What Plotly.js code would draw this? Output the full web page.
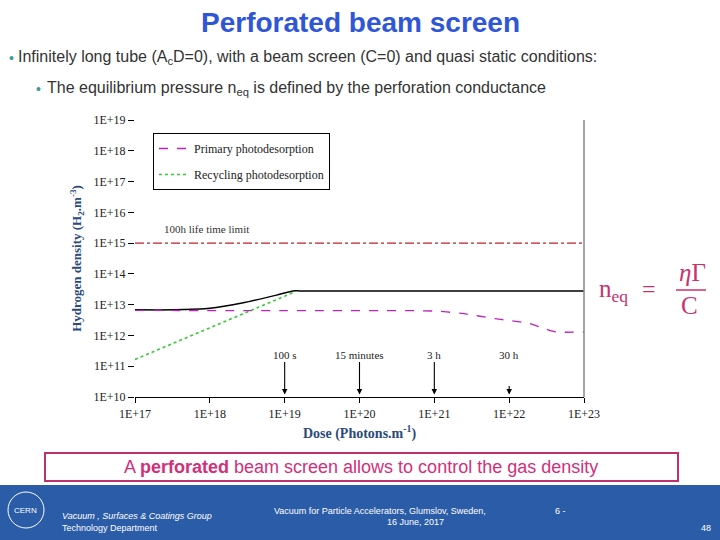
<!DOCTYPE html>
<html>
<head>
<meta charset="utf-8">
<script src="https://cdn.plot.ly/plotly-3.0.1.min.js"></script>
<style>
  html, body { margin: 0; padding: 0; background: #fff; }
  #chart { width: 720px; height: 540px; }
</style>
</head>
<body>
<div id="chart"></div>
<script>
// Dose (photons/m) and hydrogen density (H2/m3)
const totalDose = [1e17, 3.2e17, 1e18, 2.8e18, 7.8e18, 1.3e19, 1.6e19, 1e23];
const totalDensity = [6.8e12, 6.8e12, 7.6e12, 1.15e13, 2.04e13, 2.8e13, 2.8e13, 2.8e13];

const primaryDose = [1e17, 1e19, 1e21, 2.3e21, 6.6e21, 1.86e22, 3.1e22, 4.2e22, 1e23];
const primaryDensity = [6.5e12, 6.4e12, 6.2e12, 5.2e12, 3.5e12, 2.45e12, 1.6e12, 1.3e12, 1.3e12];

const recyclingDose = [1e17, 1e18, 1e19, 1.35e19];
const recyclingDensity = [1.66e11, 1.78e12, 1.86e13, 2.57e13];

const lifetimeDose = [1e17, 1e23];
const lifetimeDensity = [1e15, 1e15];

const markerDose = [1e19, 1e20, 1e21, 1e22];
const markerLabels = ['100 s', '15 minutes', '3 h', '30 h'];

const xTicks = [1e17, 1e18, 1e19, 1e20, 1e21, 1e22, 1e23];
const xTickText = ['1E+17', '1E+18', '1E+19', '1E+20', '1E+21', '1E+22', '1E+23'];
const yTicks = [1e10, 1e11, 1e12, 1e13, 1e14, 1e15, 1e16, 1e17, 1e18, 1e19];
const yTickText = ['1E+10', '1E+11', '1E+12', '1E+13', '1E+14', '1E+15', '1E+16', '1E+17', '1E+18', '1E+19'];

const W = 720, H = 540;
const px = x => x / W;
const py = y => 1 - y / H;
const SERIF = 'Liberation Serif, Times New Roman, serif';
const SANS = 'Liberation Sans, Arial, sans-serif';
const PINK = '#c8326e';
const FOOT = '#2b5ca8';

const traces = [
    {
        x: lifetimeDose, y: lifetimeDensity, mode: 'lines', showlegend: false,
        line: { color: '#c0202a', width: 1.3, dash: 'dashdot' }, hoverinfo: 'skip'
    },
    {
        x: totalDose, y: totalDensity, mode: 'lines', name: 'Total', showlegend: false,
        line: { color: '#000', width: 1.5, shape: 'spline', smoothing: 0.6 }
    },
    {
        x: primaryDose, y: primaryDensity, mode: 'lines', name: 'Primary photodesorption',
        legendgroup: 'primary',
        line: { color: '#c020c0', width: 1.3, dash: 'dash', shape: 'spline', smoothing: 0.6 }
    },
    {
        x: recyclingDose, y: recyclingDensity, mode: 'lines', name: 'Recycling photodesorption',
        legendgroup: 'recycling',
        line: { color: '#33c933', width: 1.6, dash: 'dot' }
    }
];

const annotations = [];
const note = (x, y, text, font, extra) => annotations.push(Object.assign({
    xref: 'paper', yref: 'paper', x: px(x), y: py(y), text: text, showarrow: false,
    xanchor: 'center', yanchor: 'middle', font: font
}, extra || {}));

// time markers along the dose axis
markerDose.forEach((d, i) => {
    annotations.push({
        xref: 'x', yref: 'y', x: Math.log10(d), y: Math.log10(1.2e10),
        text: markerLabels[i], showarrow: true, arrowhead: 2, arrowsize: 1, arrowwidth: 1.1,
        arrowcolor: '#000', ax: 0, ay: -40, startstandoff: i === 3 ? 24 : 0,
        font: { family: SERIF, size: 11, color: '#222' }
    });
});

annotations.push({
    xref: 'x', yref: 'y', x: 17.96, y: 15.45, text: '100h life time limit', showarrow: false,
    font: { family: SERIF, size: 11, color: '#333' }
});

// slide text
note(360, 22, '<b>Perforated beam screen</b>', { family: SANS, size: 28, color: '#2f56d6' });
note(7, 58, '•', { family: SANS, size: 14, color: '#3a9a9a' }, { xanchor: 'left' });
note(16, 58, 'Infinitely long tube (A<sub>c</sub>D=0), with a beam screen (C=0) and quasi static conditions:',
    { family: SANS, size: 16, color: '#333' }, { xanchor: 'left' });
note(34, 89, '•', { family: SANS, size: 14, color: '#3a9a9a' }, { xanchor: 'left' });
note(45, 89, 'The equilibrium pressure n<sub>eq</sub> is defined by the perforation conductance',
    { family: SANS, size: 16, color: '#333' }, { xanchor: 'left' });

// formula
note(613, 290, 'n<sub>eq</sub>', { family: SERIF, size: 25, color: PINK });
note(649, 289, '=', { family: SERIF, size: 24, color: PINK });
note(692, 272, '<i>η</i>Γ', { family: SERIF, size: 25, color: PINK });
note(689, 305, 'C', { family: SERIF, size: 25, color: PINK });

note(361, 467, 'A <b>perforated</b> beam screen allows to control the gas density',
    { family: SANS, size: 18, color: '#d2307a' });

// footer
note(26, 510, 'CERN', { family: SANS, size: 8, color: '#fff' });
note(60, 516, '<i>Vacuum , Surfaces & Coatings Group</i>', { family: SANS, size: 9, color: '#fff' }, { xanchor: 'left' });
note(60, 528, 'Technology Department', { family: SANS, size: 9, color: '#fff' }, { xanchor: 'left' });
note(380, 511, 'Vacuum for Particle Accelerators, Glumslov, Sweden,', { family: SANS, size: 9, color: '#fff' });
note(416, 522, '16 June, 2017', { family: SANS, size: 9, color: '#fff' });
note(560, 511, '6 -', { family: SANS, size: 9, color: '#fff' });
note(706, 528, '48', { family: SANS, size: 9, color: '#fff' });

const shapes = [
    // right frame line of the plot
    { type: 'line', xref: 'paper', yref: 'paper', x0: px(584), x1: px(584), y0: py(120), y1: py(397),
      line: { color: '#888', width: 1.5 } },
    // fraction bar
    { type: 'line', xref: 'paper', yref: 'paper', x0: px(676), x1: px(706), y0: py(290), y1: py(290),
      line: { color: PINK, width: 1.5 } },
    // highlighted message box
    { type: 'rect', xref: 'paper', yref: 'paper', x0: px(45), x1: px(678), y0: py(453), y1: py(481),
      line: { color: '#c0306a', width: 2 }, fillcolor: 'rgba(0,0,0,0)' },
    // footer band
    { type: 'rect', xref: 'paper', yref: 'paper', x0: 0, x1: 1, y0: 0, y1: py(485),
      line: { width: 0 }, fillcolor: FOOT, layer: 'below' },
    // logo ring
    { type: 'circle', xref: 'paper', yref: 'paper', x0: px(8), x1: px(44), y0: py(528), y1: py(492),
      line: { color: '#fff', width: 1 } }
];

const layout = {
    width: W, height: H,
    margin: { l: 0, r: 0, t: 0, b: 0 },
    paper_bgcolor: '#fff', plot_bgcolor: 'rgba(0,0,0,0)',
    showlegend: true,
    legend: {
        x: px(153), y: py(133), xanchor: 'left', yanchor: 'top',
        bgcolor: '#fff', bordercolor: '#000', borderwidth: 1,
        font: { family: SERIF, size: 12, color: '#222' },
        traceorder: 'grouped', tracegroupgap: 7, itemwidth: 30
    },
    xaxis: {
        type: 'log', range: [17, 23], domain: [px(135), px(584)],
        tickvals: xTicks, ticktext: xTickText,
        showgrid: false, zeroline: false,
        showline: true, linecolor: '#000', linewidth: 1.3,
        ticks: 'outside', ticklen: 5, tickcolor: '#000',
        tickfont: { family: SERIF, size: 12, color: '#222' },
        title: { text: '<b>Dose (Photons.m<sup>-1</sup>)</b>', standoff: 8,
                 font: { family: SERIF, size: 14, color: '#2b4a7a' } }
    },
    yaxis: {
        type: 'log', range: [10, 19], domain: [py(397), py(120)],
        tickvals: yTicks, ticktext: yTickText,
        showgrid: false, zeroline: false, showline: false,
        ticks: 'outside', ticklen: 6, tickcolor: '#000',
        tickfont: { family: SERIF, size: 12, color: '#222' },
        title: { text: '<b>Hydrogen density (H<sub>2</sub>.m<sup>-3</sup>)</b>', standoff: 8,
                 font: { family: SERIF, size: 13, color: '#2b4a7a' } }
    },
    annotations: annotations,
    shapes: shapes
};

Plotly.newPlot('chart', traces, layout, { displayModeBar: false, staticPlot: true });
</script>
</body>
</html>
